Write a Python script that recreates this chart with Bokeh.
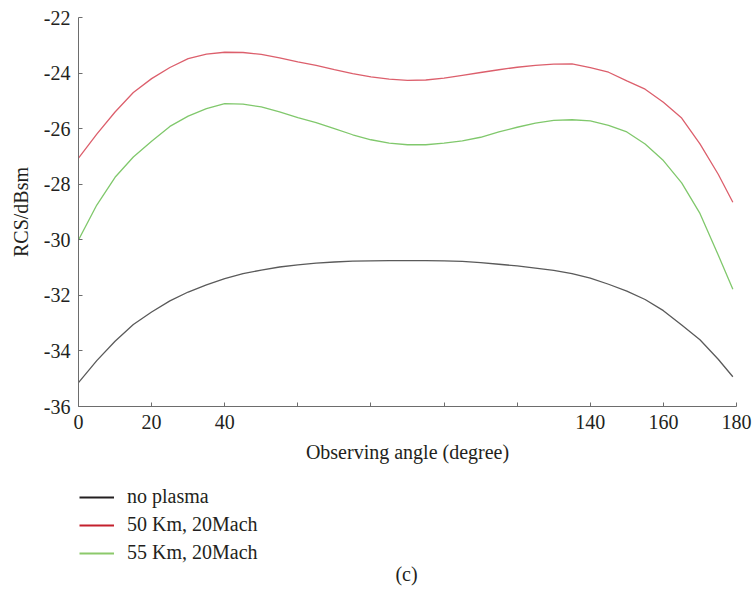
from bokeh.plotting import figure
from bokeh.layouts import column
from bokeh.models import Range1d, FixedTicker, Legend, LegendItem, Label
from bokeh.embed import file_html
from bokeh.resources import INLINE

# observing angle (degree)
angle = [0, 5, 10, 15, 20, 25, 30, 35, 40, 45, 50, 55, 60, 65, 70, 75, 80, 85, 90,
         95, 100, 105, 110, 115, 120, 125, 130, 135, 140, 145, 150, 155, 160, 165,
         170, 175, 179]

no_plasma = [-35.14, -34.35, -33.65, -33.05, -32.60, -32.20, -31.88, -31.62, -31.40,
             -31.22, -31.09, -30.98, -30.90, -30.84, -30.80, -30.77, -30.76, -30.75,
             -30.75, -30.75, -30.76, -30.78, -30.82, -30.88, -30.94, -31.02, -31.10,
             -31.22, -31.38, -31.60, -31.85, -32.15, -32.55, -33.07, -33.60, -34.30,
             -34.93]

km50 = [-27.06, -26.20, -25.40, -24.70, -24.20, -23.80, -23.48, -23.32, -23.25,
        -23.26, -23.33, -23.45, -23.60, -23.72, -23.88, -24.02, -24.14, -24.22,
        -24.26, -24.25, -24.18, -24.08, -23.98, -23.88, -23.79, -23.72, -23.68,
        -23.67, -23.80, -23.97, -24.28, -24.58, -25.05, -25.62, -26.55, -27.64,
        -28.65]

km55 = [-30.01, -28.75, -27.75, -27.02, -26.45, -25.92, -25.55, -25.28, -25.10,
        -25.12, -25.22, -25.40, -25.60, -25.78, -26.00, -26.22, -26.40, -26.52,
        -26.58, -26.58, -26.52, -26.44, -26.31, -26.12, -25.95, -25.80, -25.70,
        -25.68, -25.72, -25.88, -26.12, -26.55, -27.15, -27.95, -29.05, -30.55,
        -31.78]

series_names = ["no plasma", "50 Km, 20Mach", "55 Km, 20Mach"]
x_ticks = [0, 20, 40, 60, 80, 100, 120, 140, 160, 180]
x_hidden = [60, 80, 100, 120]
y_ticks = [-36, -34, -32, -30, -28, -26, -24, -22]
y_tick_labels = ["-36", "-34", "-32", "-30", "-28", "-26", "-24", "-22"]
caption = "(c)"

FONT = "Liberation Serif"
FS = "20px"
TXT = "#231f20"

p = figure(width=753, height=466, output_backend="svg", toolbar_location=None,
           x_range=Range1d(0, 180), y_range=Range1d(-36, -22),
           min_border_left=78, min_border_right=17, min_border_top=17,
           min_border_bottom=60)
p.outline_line_color = None
p.grid.visible = False

line_cols = ["#5a5a5a", "#dc5f6c", "#80c86c"]
data = [no_plasma, km50, km55]
for ys, c in zip(data, line_cols):
    p.line(angle, ys, line_color=c, line_width=1.3)

for ax in (p.xaxis[0], p.yaxis[0]):
    ax.axis_line_color = "#6d6d6d"
    ax.major_tick_line_color = "#6d6d6d"
    ax.major_tick_in = 4
    ax.major_tick_out = 0
    ax.minor_tick_line_color = None
    ax.major_label_text_font = FONT
    ax.major_label_text_font_size = FS
    ax.major_label_text_color = TXT
    ax.axis_label_text_font = FONT
    ax.axis_label_text_font_size = FS
    ax.axis_label_text_font_style = "normal"
    ax.axis_label_text_color = TXT

p.xaxis.ticker = FixedTicker(ticks=x_ticks)
p.xaxis.major_label_overrides = {t: "" for t in x_hidden}
p.xaxis.major_label_standoff = 8
p.xaxis.axis_label = "Observing angle (degree)"
p.xaxis.axis_label_standoff = 9

p.yaxis.ticker = FixedTicker(ticks=y_ticks)
p.yaxis.major_label_overrides = dict(zip(y_ticks, y_tick_labels))
p.yaxis.major_label_standoff = 8
p.yaxis.axis_label = "RCS/dBsm"
p.yaxis.axis_label_standoff = 9

# lower panel: legend and caption
p2 = figure(width=753, height=128, output_backend="svg", toolbar_location=None,
            x_range=Range1d(0, 180), y_range=Range1d(0, 1),
            x_axis_location=None, y_axis_location=None,
            min_border_left=0, min_border_right=0, min_border_top=0,
            min_border_bottom=0)
p2.outline_line_color = None
p2.grid.visible = False

leg_cols = ["#231f20", "#c4202d", "#8cc96b"]
rs = [p2.line(angle, ys, line_color=c, line_width=2) for ys, c in zip(data, leg_cols)]

legend = Legend(items=[LegendItem(label=n, renderers=[r]) for n, r in zip(series_names, rs)],
                location=(1, 30), orientation="vertical",
                margin=0, padding=0, spacing=5,
                glyph_width=35, glyph_height=20, label_height=20,
                label_standoff=13,
                label_text_font=FONT, label_text_font_size=FS,
                label_text_color=TXT,
                border_line_color=None, background_fill_alpha=0)
p2.add_layout(legend)

cap = Label(x=328, y=21, x_units="screen", y_units="screen", text=caption,
            text_align="center", text_baseline="middle", text_font=FONT,
            text_font_size=FS, text_color=TXT)
p2.add_layout(cap)

open("out.html", "w").write(file_html(column(p, p2, spacing=0), INLINE))
